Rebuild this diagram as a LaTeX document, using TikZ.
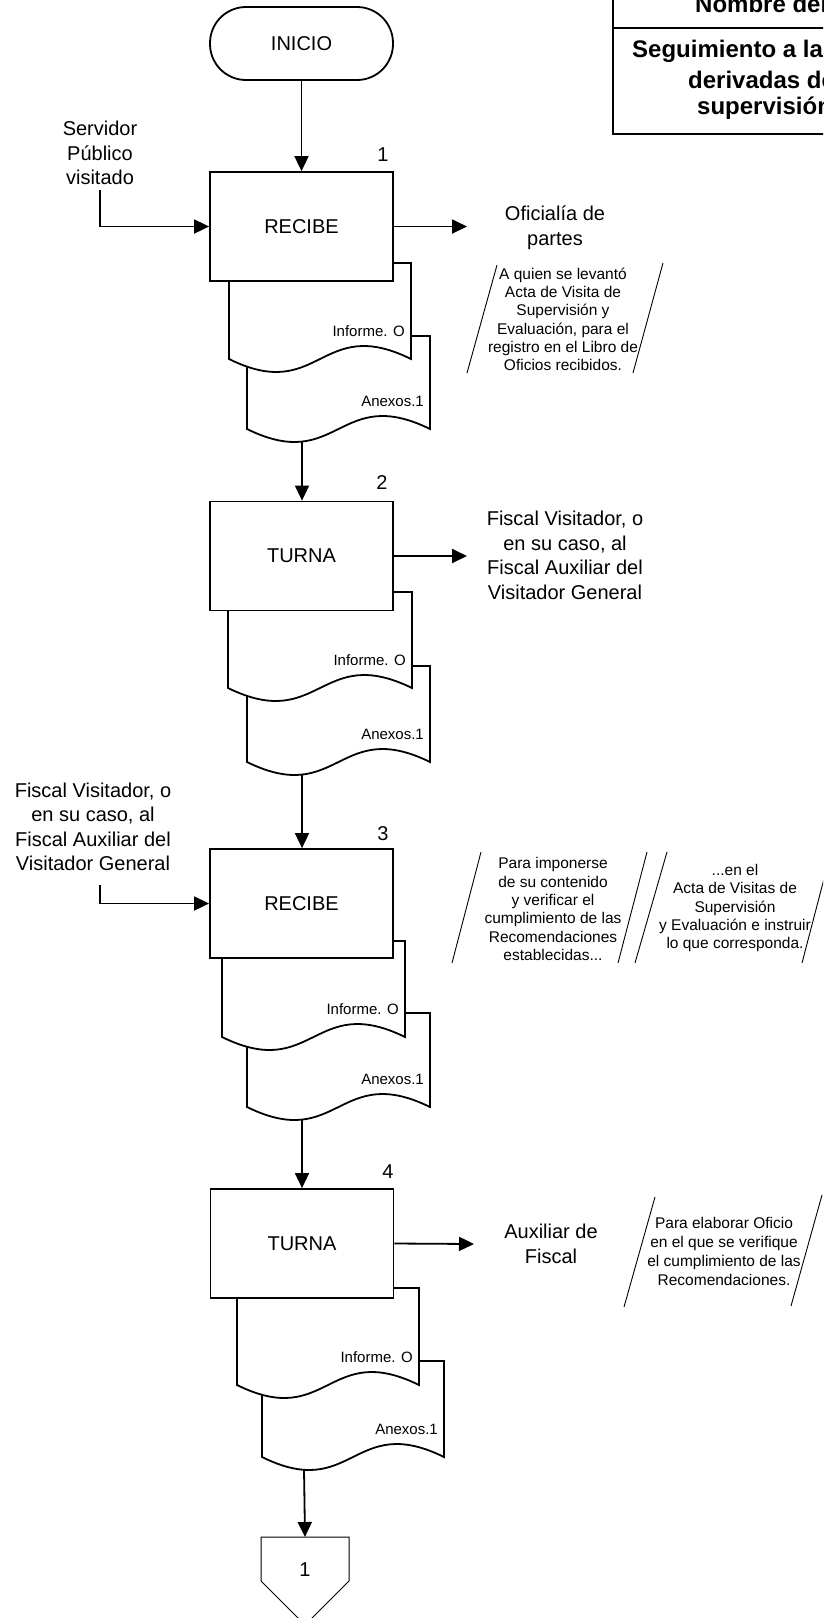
\documentclass[tikz,border=0pt]{standalone}
\usepackage{fontspec}
\setmainfont{Liberation Sans}
\usetikzlibrary{arrows.meta}
\newcommand{\mydoc}[5]{%
  \draw[docst] (#1,#3) -- (#2,#3) -- (#2,#4) .. controls ({(#1+#2)/2},{#4-45}) and ({(#1+#2)/2},{#4+45}) .. (#1,#4) -- cycle;
  \node[doclab, anchor=east] at ({#2-6},{#4-28}) {#5};
}
\tikzset{
  mainf/.style={font=\fontsize{20pt}{24.5pt}\selectfont},
  boxst/.style={draw, fill=white, line width=1.8pt, minimum width=183pt, minimum height=109pt, inner sep=0pt, mainf},
  termst/.style={draw, fill=white, line width=1.8pt, minimum width=183pt, minimum height=73pt, rounded corners=36pt, inner sep=0pt, mainf},
  docst/.style={draw, fill=white, line width=1.8pt},
  doclab/.style={font=\fontsize{15pt}{18pt}\selectfont, inner sep=0pt},
  lbl/.style={mainf, align=center, inner sep=0pt},
  notef/.style={font=\fontsize{15.5pt}{18.3pt}\selectfont, align=center, inner sep=0pt},
  notel/.style={line width=0.9pt},
  arr/.style={line width=1.8pt, -{Triangle[length=15pt,width=14pt]}},
  titlef/.style={font=\fontsize{24pt}{28pt}\selectfont\bfseries, inner sep=0pt, anchor=west},
}
\begin{document}
\begin{tikzpicture}[x=1pt,y=-1pt]
\useasboundingbox (0,0) rectangle (823,1618);
\clip (0,0) rectangle (823,1618);

% title box
\draw[line width=2pt] (613,-5) -- (613,134) -- (830,134);
\draw[line width=2pt] (613,28) -- (830,28);
\node[titlef] (t0) at (695,4) {Nombre del};
\node[titlef] (t1) at (632,51) {Seguimiento a las};
\node[titlef] (t2) at (688,79.5) {derivadas de};
\node[titlef] (t3) at (697,108) {supervisión};

% start
\node[termst] (inicio) at (301.5,43.5) {INICIO};

% block 1
\mydoc{247}{430}{336}{429}{Anexos.1}
\mydoc{229}{411}{263}{359}{Informe. O}
\node[boxst] (b1) at (301.5,226.5) {RECIBE};
\node[mainf, inner sep=0pt] (n1) at (383,155) {1};
\node[lbl] (serv) at (100,153) {Servidor\\Público\\visitado};
\node[lbl] (ofi) at (555,227.5) {Oficialía de\\partes};
\coordinate (o1) at (467,226.5);
\draw[notel] (497,265) -- (467,373);
\draw[notel] (663,263) -- (633,373);
\node[notef] (note1) at (563,319.5) {A quien se levantó\\Acta de Visita de\\Supervisión y\\Evaluación, para el\\registro en el Libro de\\Oficios recibidos.};
\coordinate (d1) at (302,441);

% block 2
\mydoc{247}{430}{666}{762}{Anexos.1}
\mydoc{228}{412}{592}{688}{Informe. O}
\node[boxst] (b2) at (301.5,556) {TURNA};
\node[mainf, inner sep=0pt] (n2) at (382,483) {2};
\node[lbl] (fv1) at (565,555.5) {Fiscal Visitador, o\\en su caso, al\\Fiscal Auxiliar del\\Visitador General};
\coordinate (o2) at (467,556);
\coordinate (d2) at (302,774);

% block 3
\mydoc{247}{430}{1013}{1107}{Anexos.1}
\mydoc{222}{405}{941}{1037}{Informe. O}
\node[boxst] (b3) at (301.5,903.5) {RECIBE};
\node[mainf, inner sep=0pt] (n3) at (383,834) {3};
\node[lbl] (fv2) at (93,827) {Fiscal Visitador, o\\en su caso, al\\Fiscal Auxiliar del\\Visitador General};
\coordinate (f3) at (100,885);
\draw[notel] (481,852) -- (452,963);
\draw[notel] (647,852) -- (618,963);
\node[notef] (note3a) at (553,909) {Para imponerse\\de su contenido\\y verificar el\\cumplimiento de las\\Recomendaciones\\establecidas...};
\draw[notel] (667,852) -- (635,963);
\draw[notel] (831,852) -- (802,963);
\node[notef] (note3b) at (735,908) {...en el\\Acta de Visitas de\\Supervisión\\y Evaluación e instruir\\lo que corresponda.};
\coordinate (d3) at (302,1119);

% block 4
\mydoc{262}{444}{1361}{1457}{Anexos.1}
\mydoc{237}{419}{1288}{1385}{Informe. O}
\node[boxst] (b4) at (302,1243.5) {TURNA};
\node[mainf, inner sep=0pt] (n4) at (388,1172) {4};
\node[lbl] (aux) at (551,1244) {Auxiliar de\\Fiscal};
\coordinate (o4) at (474,1244);
\draw[notel] (655,1197) -- (624,1307);
\draw[notel] (822,1195) -- (791,1306);
\node[notef, font=\fontsize{15.5pt}{19pt}\selectfont] (note4) at (724,1251.5) {Para elaborar Oficio\\en el que se verifique\\el cumplimiento de las\\Recomendaciones.};
\coordinate (d4) at (304,1469);

% off-page connector
\coordinate (ctop) at (305,1537);
\draw[line width=1pt] (261,1537) -- (349,1537) -- (349,1581) -- (305,1625) -- (261,1581) -- cycle;
\node[mainf, inner sep=0pt] (c1) at (305,1570) {1};

% connectors
\draw[arr] (inicio.south) -- (b1.north);
\draw[arr] (serv.south) ++(0,5) |- (b1.west);
\draw[arr] (b1.east) -- (o1);
\draw[arr] (d1) -- (d1 |- b2.north);
\draw[arr] (b2.east) -- (o2);
\draw[arr] (d2) -- (d2 |- b3.north);
\draw[arr] (f3) |- (b3.west);
\draw[arr] (d3) -- (d3 |- b4.north);
\draw[arr] (b4.east) -- (o4);
\draw[arr] (d4) -- (ctop);
\end{tikzpicture}
\end{document}
